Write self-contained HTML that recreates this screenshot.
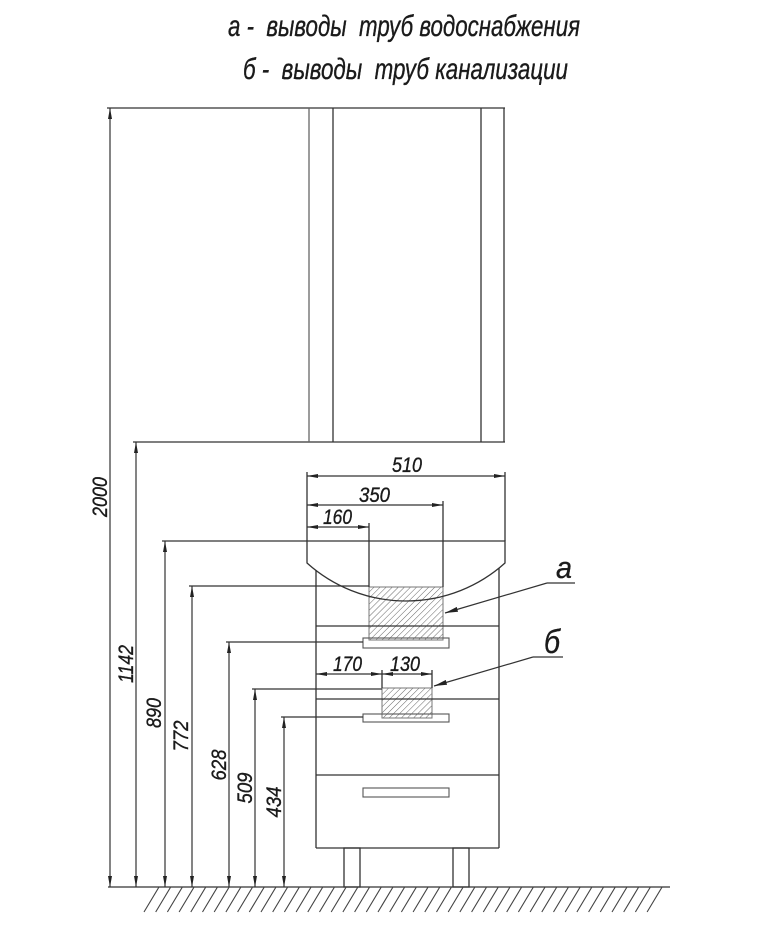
<!DOCTYPE html>
<html><head><meta charset="utf-8"><style>
html,body{margin:0;padding:0;background:#fff;}
svg{display:block;}
text{font-family:"Liberation Sans","DejaVu Sans",sans-serif;font-style:italic;fill:#1a1a1a;stroke:#1a1a1a;stroke-width:0.35;}
</style></head><body>
<svg width="760" height="950" viewBox="0 0 760 950" xmlns="http://www.w3.org/2000/svg">
<defs>
<pattern id="h" patternUnits="userSpaceOnUse" width="4.3" height="6" patternTransform="rotate(45)">
<line x1="0" y1="0" x2="0" y2="6" stroke="#666" stroke-width="1"/>
</pattern>
<marker id="ar" viewBox="0 0 11 4" refX="11" refY="2" markerWidth="11" markerHeight="4" markerUnits="userSpaceOnUse" orient="auto-start-reverse">
<path d="M0,0 L11,2 L0,4 Z" fill="#222"/>
</marker>
<marker id="al" viewBox="0 0 13 5" refX="13" refY="2.5" markerWidth="13" markerHeight="5" markerUnits="userSpaceOnUse" orient="auto">
<path d="M0,0 L13,2.5 L0,5 Z" fill="#222"/>
</marker>
</defs>

<!-- Titles -->
<text x="228" y="36" font-size="30" textLength="352" lengthAdjust="spacingAndGlyphs" style="white-space:pre">а -  выводы  труб водоснабжения</text>
<text x="243" y="79" font-size="30" textLength="325" lengthAdjust="spacingAndGlyphs" style="white-space:pre">б -  выводы  труб канализации</text>

<!-- hatched boxes -->
<rect x="369" y="587" width="74" height="53" fill="url(#h)" stroke="#777" stroke-width="1"/>
<rect x="382" y="688" width="50" height="30" fill="url(#h)" stroke="#777" stroke-width="1"/>

<g stroke="#333" stroke-width="1.3" fill="none">
<!-- top cabinet -->
<line x1="107" y1="108" x2="505" y2="108"/>
<line x1="133" y1="442" x2="505" y2="442"/>
<line x1="309" y1="108" x2="309" y2="442" stroke="#666"/>
<line x1="333" y1="108" x2="333" y2="442"/>
<line x1="481" y1="108" x2="481" y2="442"/>
<line x1="504" y1="108" x2="504" y2="442"/>

<!-- countertop -->
<path d="M307,541 L505,541 L505,563 A148,148 0 0 1 307,563 Z"/>
<line x1="162" y1="541" x2="307" y2="541"/>

<!-- body -->
<line x1="316" y1="570" x2="316" y2="848"/>
<line x1="499" y1="568" x2="499" y2="848"/>
<line x1="316" y1="848" x2="499" y2="848"/>
<line x1="316" y1="626" x2="499" y2="626"/>
<line x1="316" y1="699" x2="499" y2="699"/>
<line x1="316" y1="775" x2="499" y2="775"/>

<!-- handles -->
<rect x="363" y="638" width="86" height="10" stroke="#555" stroke-width="1.1"/>
<rect x="363" y="714" width="86" height="8" stroke="#555" stroke-width="1.1"/>
<rect x="363" y="788" width="86" height="9" stroke="#555" stroke-width="1.1"/>

<!-- legs -->
<rect x="344" y="848" width="16" height="39"/>
<rect x="453" y="848" width="16" height="39"/>

<!-- floor -->
<line x1="108" y1="887" x2="670" y2="887"/>
<path stroke="#444" stroke-width="1.1" d="M159,887l-15,25M170.7,887l-15,25M182.4,887l-15,25M194.1,887l-15,25M205.8,887l-15,25M217.5,887l-15,25M229.2,887l-15,25M240.9,887l-15,25M252.6,887l-15,25M264.3,887l-15,25M276,887l-15,25M287.7,887l-15,25M299.4,887l-15,25M311.1,887l-15,25M322.8,887l-15,25M334.5,887l-15,25M346.2,887l-15,25M357.9,887l-15,25M369.6,887l-15,25M381.3,887l-15,25M393,887l-15,25M404.7,887l-15,25M416.4,887l-15,25M428.1,887l-15,25M439.8,887l-15,25M451.5,887l-15,25M463.2,887l-15,25M474.9,887l-15,25M486.6,887l-15,25M498.3,887l-15,25M510,887l-15,25M521.7,887l-15,25M533.4,887l-15,25M545.1,887l-15,25M556.8,887l-15,25M568.5,887l-15,25M580.2,887l-15,25M591.9,887l-15,25M603.6,887l-15,25M615.3,887l-15,25M627,887l-15,25M638.7,887l-15,25M650.4,887l-15,25M662.1,887l-15,25"/>

<!-- extension lines -->
<line x1="189" y1="586" x2="369" y2="586"/>
<line x1="226" y1="642" x2="363" y2="642"/>
<line x1="252" y1="689" x2="382" y2="689"/>
<line x1="281" y1="717" x2="363" y2="717"/>
<line x1="307" y1="472" x2="307" y2="541"/>
<line x1="505" y1="472" x2="505" y2="541"/>
<line x1="443" y1="501" x2="443" y2="587"/>
<line x1="369" y1="523" x2="369" y2="587"/>
<line x1="382" y1="670" x2="382" y2="688"/>
<line x1="432" y1="670" x2="432" y2="688"/>
</g>

<!-- dimension lines with arrows -->
<g stroke="#333" stroke-width="1.2" fill="none" marker-start="url(#ar)" marker-end="url(#ar)">
<line x1="110" y1="108" x2="110" y2="887"/>
<line x1="136" y1="442" x2="136" y2="887"/>
<line x1="165" y1="541" x2="165" y2="887"/>
<line x1="192" y1="586" x2="192" y2="887"/>
<line x1="229" y1="642" x2="229" y2="887"/>
<line x1="255" y1="689" x2="255" y2="887"/>
<line x1="284" y1="717" x2="284" y2="887"/>
<line x1="307" y1="476" x2="505" y2="476"/>
<line x1="307" y1="505" x2="443" y2="505"/>
<line x1="307" y1="527" x2="369" y2="527"/>
<line x1="316" y1="674" x2="382" y2="674"/>
<line x1="382" y1="674" x2="432" y2="674"/>
</g>

<!-- leaders -->
<g stroke="#333" stroke-width="1.2" fill="none">
<line x1="547" y1="583" x2="575" y2="583"/>
<line x1="547" y1="583" x2="445" y2="613" marker-end="url(#al)"/>
<line x1="533" y1="657" x2="563" y2="657"/>
<line x1="533" y1="657" x2="434" y2="686" marker-end="url(#al)"/>
</g>
<text x="556" y="578" font-size="31" textLength="16" lengthAdjust="spacingAndGlyphs">а</text>
<text x="544" y="653" font-size="33" textLength="16" lengthAdjust="spacingAndGlyphs">б</text>

<!-- horizontal dim texts -->
<text x="392" y="472" font-size="21" textLength="30" lengthAdjust="spacingAndGlyphs">510</text>
<text x="359" y="502" font-size="21" textLength="31" lengthAdjust="spacingAndGlyphs">350</text>
<text x="323" y="524" font-size="21" textLength="29" lengthAdjust="spacingAndGlyphs">160</text>
<text x="333" y="671" font-size="21" textLength="29" lengthAdjust="spacingAndGlyphs">170</text>
<text x="390" y="671" font-size="21" textLength="30" lengthAdjust="spacingAndGlyphs">130</text>

<!-- vertical dim texts -->
<text transform="translate(107,497) rotate(-90)" x="-20" y="0" font-size="21" textLength="40" lengthAdjust="spacingAndGlyphs">2000</text>
<text transform="translate(133,664) rotate(-90)" x="-19" y="0" font-size="21" textLength="38" lengthAdjust="spacingAndGlyphs">1142</text>
<text transform="translate(161,713) rotate(-90)" x="-15" y="0" font-size="21" textLength="30" lengthAdjust="spacingAndGlyphs">890</text>
<text transform="translate(188,736) rotate(-90)" x="-15.5" y="0" font-size="21" textLength="31" lengthAdjust="spacingAndGlyphs">772</text>
<text transform="translate(226,765) rotate(-90)" x="-15.5" y="0" font-size="21" textLength="31" lengthAdjust="spacingAndGlyphs">628</text>
<text transform="translate(252,788) rotate(-90)" x="-15.5" y="0" font-size="21" textLength="31" lengthAdjust="spacingAndGlyphs">509</text>
<text transform="translate(281,802) rotate(-90)" x="-15.5" y="0" font-size="21" textLength="31" lengthAdjust="spacingAndGlyphs">434</text>
</svg>
</body></html>
